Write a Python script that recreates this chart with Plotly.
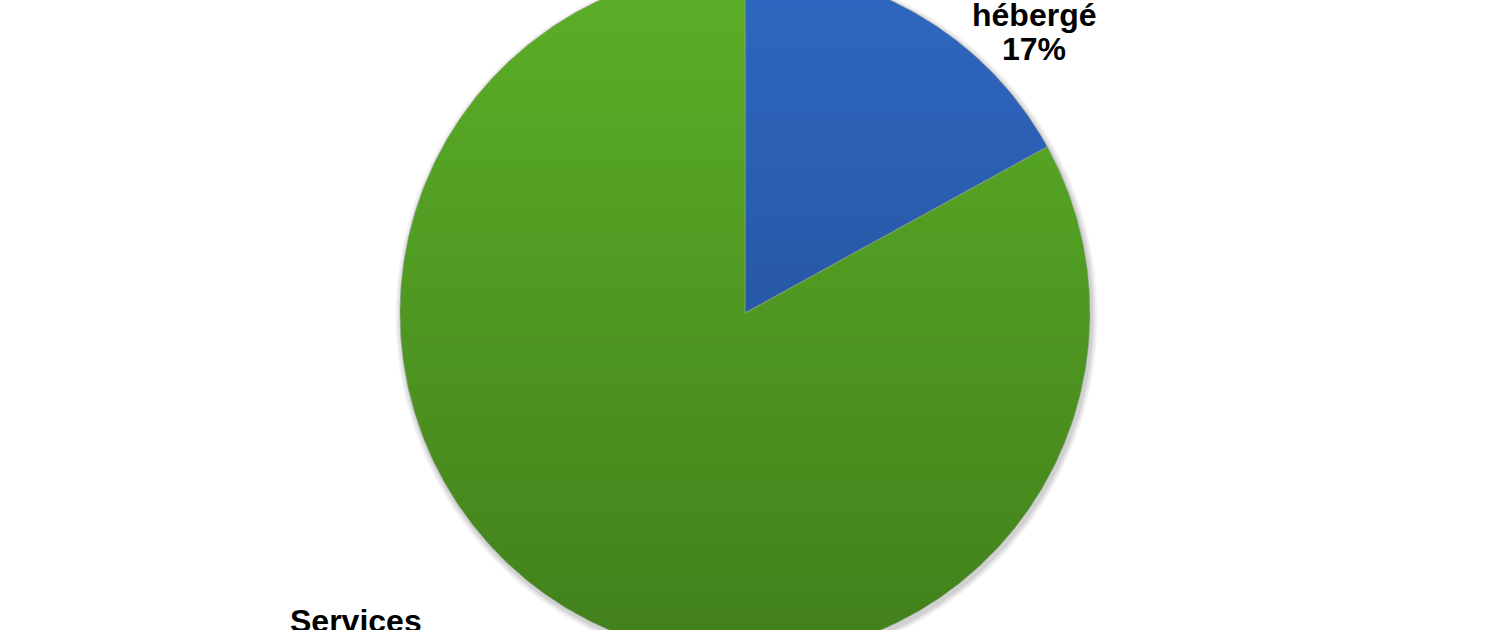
import numpy as np
import plotly.graph_objects as go

# Data
labels_top = ["hébergé", "Services"]
label_pct = ["17%", "83%"]
values = [17, 83]
colors_top = ["#2F68C2", "#5CB027"]
colors_bottom = ["#1F4889", "#417F1B"]

W, H = 1490, 630
cx_px, cy_px, r_px = 745, 313, 345

fig = go.Figure()

# soft shadow
t = np.linspace(0, 2 * np.pi, 361)
for k, (dx, op) in enumerate([(6, 0.05), (4, 0.06), (2, 0.08)]):
    rr = 1 + dx / r_px
    fig.add_trace(go.Scatter(
        x=(rr * np.sin(t) + 1.5 / r_px).tolist(), y=(rr * np.cos(t) - 3 / r_px).tolist(),
        mode="lines", fill="toself", line=dict(width=0),
        fillcolor=f"rgba(0,0,0,{op})", hoverinfo="skip", showlegend=False))

total = sum(values)
start = 0.0
for i, v in enumerate(values):
    a0 = start / total * 2 * np.pi
    a1 = (start + v) / total * 2 * np.pi
    n = max(int(v * 6), 20)
    th = np.linspace(a0, a1, n)
    xs = [0.0] + np.sin(th).tolist() + [0.0]
    ys = [0.0] + np.cos(th).tolist() + [0.0]
    fig.add_trace(go.Scatter(
        x=xs, y=ys, mode="lines", fill="toself",
        line=dict(width=1, color="rgba(150,160,150,0.6)"),
        fillgradient=dict(type="vertical",
                          colorscale=[[0, colors_bottom[i]], [1, colors_top[i]]],
                          start=-1, stop=1),
        hoverinfo="skip", showlegend=False, name=labels_top[i]))
    start += v

# axes scaled so 1 unit = r_px pixels
xr = [-cx_px / r_px, (W - cx_px) / r_px]
yr = [-(H - cy_px) / r_px, cy_px / r_px]

fnt = dict(family="Liberation Sans, Arial", size=32, color="black")
def px(x, y):
    return (x - cx_px) / r_px, (cy_px - y) / r_px

ax, ay = px(1034, 28)
fig.add_annotation(x=ax, y=ay, text=f"<b>{labels_top[0]}</b>", showarrow=False,
                   yanchor="bottom", yshift=-7, font=fnt)
ax, ay = px(1034, 62)
fig.add_annotation(x=ax, y=ay, text=f"<b>{label_pct[0]}</b>", showarrow=False,
                   yanchor="bottom", yshift=-7, font=fnt)
ax, ay = px(356, 626)
fig.add_annotation(x=ax, y=ay, text=f"<b>{labels_top[1]}</b>", showarrow=False,
                   yanchor="bottom", yshift=-15, font=fnt)
fig.add_annotation(x=ax, y=ay, text=f"<b>{label_pct[1]}</b>", showarrow=False,
                   yanchor="bottom", yshift=-50, font=fnt)

fig.update_layout(
    width=W, height=H, margin=dict(l=0, r=0, t=0, b=0),
    paper_bgcolor="white", plot_bgcolor="white",
    xaxis=dict(range=xr, visible=False, fixedrange=True),
    yaxis=dict(range=yr, visible=False, fixedrange=True),
    showlegend=False,
)
fig.write_html("out.html", config={"displayModeBar": False},
               post_script="document.body.style.margin='0';document.body.style.overflow='hidden';")
